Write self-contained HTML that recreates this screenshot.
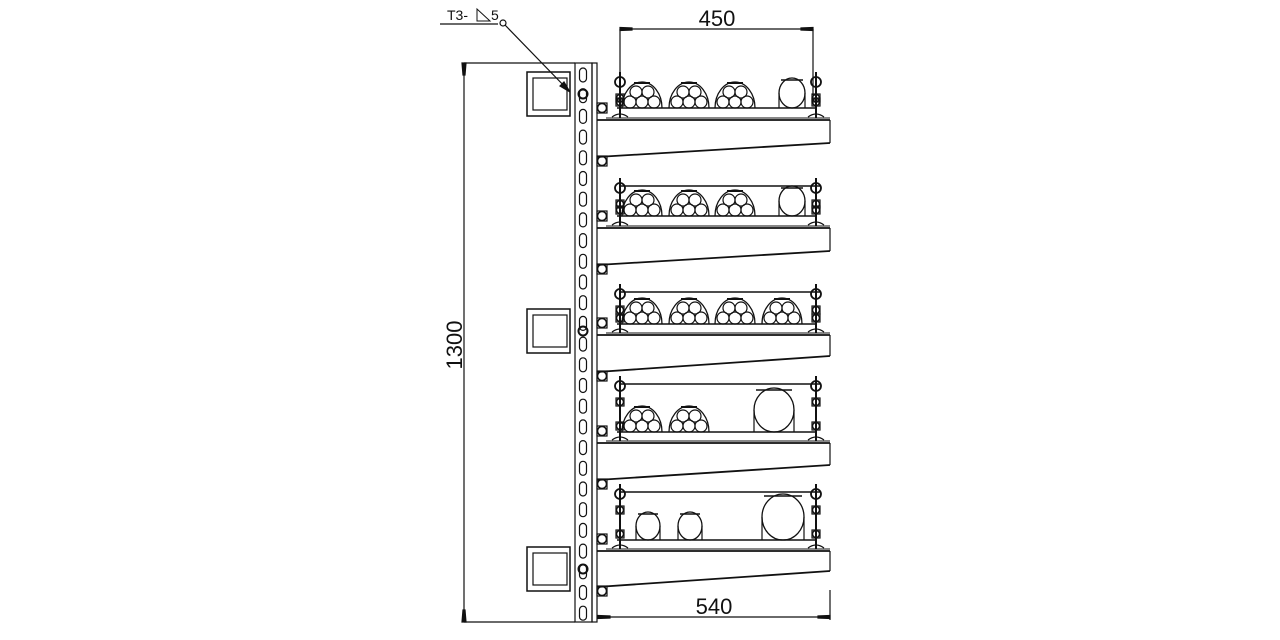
<!DOCTYPE html>
<html><head><meta charset="utf-8"><style>
html,body{margin:0;padding:0;background:#fff;width:1280px;height:640px;overflow:hidden}
svg{display:block}
text{font-family:"Liberation Sans",sans-serif;fill:#111}
</style></head><body>
<svg id="s" width="1280" height="640" viewBox="0 0 1280 640" xmlns="http://www.w3.org/2000/svg" fill="none" stroke="#111" stroke-width="1.2">
<line x1="464" y1="63" x2="464" y2="622"/>
<line x1="464" y1="63" x2="575" y2="63"/>
<line x1="464" y1="622" x2="575" y2="622"/>
<polygon points="462,63 466,63 465,75 463,75" fill="#111"/>
<polygon points="462,622 466,622 465,610 463,610" fill="#111"/>
<text x="0" y="0" font-size="22" stroke="none" transform="translate(462,345) rotate(-90)" text-anchor="middle">1300</text>
<line x1="440" y1="24" x2="498" y2="24"/>
<text x="447" y="20" font-size="14" stroke="none">T3-</text>
<path d="M477 21 L477 9 L490 21 Z" stroke-width="1"/>
<text x="491" y="20" font-size="14" stroke="none">5</text>
<circle cx="503" cy="23" r="3"/>
<line x1="505" y1="25" x2="570" y2="92"/>
<polygon points="570,92 560,86 564,82" fill="#111"/>
<rect x="575" y="63" width="17" height="559"/>
<rect x="592" y="63" width="5" height="559"/>
<line x1="620" y1="29" x2="813" y2="29"/>
<line x1="620" y1="29" x2="620" y2="95"/>
<line x1="813" y1="29" x2="813" y2="95"/>
<polygon points="620,27.5 632,28 632,30 620,30.5" fill="#111"/>
<polygon points="813,27.5 801,28 801,30 813,30.5" fill="#111"/>
<text x="717" y="26" font-size="22" stroke="none" text-anchor="middle">450</text>
<line x1="598" y1="617" x2="830" y2="617"/>
<line x1="830" y1="590" x2="830" y2="620"/>
<polygon points="598,615.5 610,616 610,618 598,618.5" fill="#111"/>
<polygon points="830,615.5 818,616 818,618 830,618.5" fill="#111"/>
<text x="714" y="614" font-size="22" stroke="none" text-anchor="middle">540</text>
<g id="g"></g>
</svg>
<script>
var g=document.getElementById('g'),h='';
function sq(y){h+='<rect x="527" y="'+y+'" width="43" height="44" stroke-width="1.5"/><rect x="533" y="'+(y+6)+'" width="34" height="32"/><circle cx="583" cy="'+(y+22)+'" r="4.5" stroke-width="2"/>';}
sq(72);sq(309);sq(547);
for(var y=68;y<615;y+=20.7){h+='<rect x="579.5" y="'+y.toFixed(1)+'" width="7" height="14" rx="3.5"/>';}
function bundle(cx,base){var r=6;
h+='<path d="M'+(cx-20)+' '+base+' A20 26 0 0 1 '+(cx+20)+' '+base+'" stroke-width="1.3"/><line x1="'+(cx-8)+'" y1="'+(base-25)+'" x2="'+(cx+8)+'" y2="'+(base-25)+'" stroke-width="2"/>';
[-12,0,12].forEach(function(d){h+='<circle cx="'+(cx+d)+'" cy="'+(base-6)+'" r="'+r+'"/>';});
[-6,6].forEach(function(d){h+='<circle cx="'+(cx+d)+'" cy="'+(base-16)+'" r="'+r+'"/>';});
}
function big(cx,base,r){h+='<ellipse cx="'+cx+'" cy="'+(base-r)+'" rx="'+(r-2)+'" ry="'+r+'" stroke-width="1.3"/><line x1="'+(cx-r+4)+'" y1="'+(base-2*r+2)+'" x2="'+(cx+r-4)+'" y2="'+(base-2*r+2)+'" stroke-width="1.5"/><line x1="'+(cx-r+2)+'" y1="'+base+'" x2="'+(cx-r+2)+'" y2="'+(base-r)+'"/><line x1="'+(cx+r-2)+'" y1="'+base+'" x2="'+(cx+r-2)+'" y2="'+(base-r)+'"/>';}
function bolt(x,y,s){s=s||4;h+='<rect x="'+(x-s)+'" y="'+(y-s)+'" width="'+2*s+'" height="'+2*s+'"/><circle cx="'+x+'" cy="'+y+'" r="'+(s-0.5)+'" stroke-width="1.5"/>';}
var tiers=[[80,108,120,143,157],[186,216,228,251,265],[292,324,335,356,372],[384,432,443,465,480],[492,540,551,571,587]];
tiers.forEach(function(t,i){var rim=t[0],base=t[1],bt=t[2],br=t[3],bl=t[4];
 if(i>0)h+='<line x1="620" y1="'+rim+'" x2="820" y2="'+rim+'" stroke-width="1.5"/>';
 h+='<line x1="617" y1="'+base+'" x2="817" y2="'+base+'" stroke-width="1.4"/>';
 h+='<line x1="606" y1="'+(bt-2)+'" x2="830" y2="'+(bt-2)+'" stroke-width="1"/>';
 h+='<line x1="597" y1="'+bt+'" x2="830" y2="'+bt+'" stroke-width="1.8"/><line x1="830" y1="'+bt+'" x2="830" y2="'+br+'"/><line x1="597" y1="'+bl+'" x2="830" y2="'+br+'" stroke-width="1.8"/>';
 bolt(602,bt-12,5);bolt(602,bl+4,5);
 [620,816].forEach(function(x){h+='<line x1="'+x+'" y1="'+(rim-8)+'" x2="'+x+'" y2="'+(bt-2)+'" stroke-width="2"/><circle cx="'+x+'" cy="'+(rim+2)+'" r="5" stroke-width="1.8"/>';bolt(x,base-6);bolt(x,rim+18);h+='<path d="M'+(x-8)+' '+(bt-3)+' q8 -6 16 0" />';});
 if(i<3){bundle(642,base);bundle(689,base);bundle(735,base);}
 if(i==0||i==1)big(792,base,15);
 if(i==2)bundle(782,base);
 if(i==3){bundle(642,base);bundle(689,base);big(774,base,22);}
 if(i==4){big(648,base,14);big(690,base,14);big(783,base,23);}
});
g.innerHTML=h;
</script>
</body></html>
